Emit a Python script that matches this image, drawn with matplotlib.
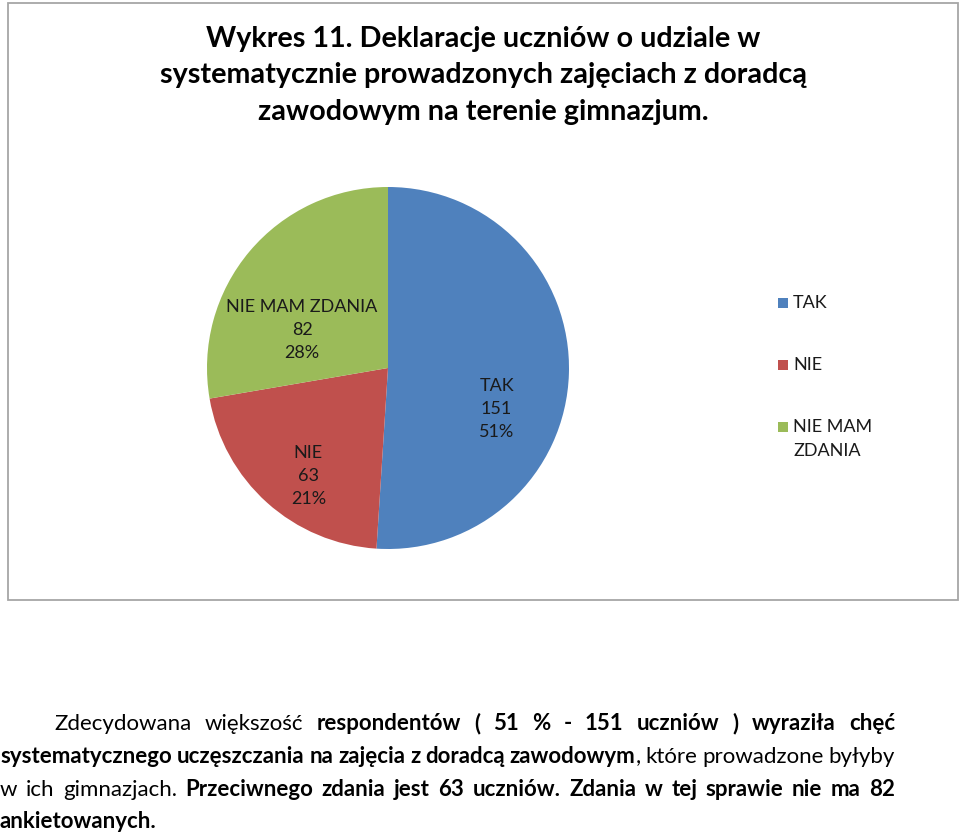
import matplotlib
matplotlib.use("Agg")
import matplotlib.pyplot as plt
from matplotlib.patches import Rectangle

# ---- data ----
categories = ["TAK", "NIE", "NIE MAM ZDANIA"]
values = [151, 63, 82]
legend_labels = ["TAK", "NIE", "NIE MAM\nZDANIA"]
colors = ["#4F81BD", "#C0504D", "#9BBB59"]
title_lines = [
    "Wykres 11. Deklaracje uczniów o udziale w",
    "systematycznie prowadzonych zajęciach z doradcą",
    "zawodowym na terenie gimnazjum.",
]
# paragraph: lines of words; each word = list of (text, bold)
para_lines = [
    [[("Zdecydowana", False)], [("większość", False)], [("respondentów", True)], [("(", True)],
     [("51", True)], [("%", True)], [("-", True)], [("151", True)], [("uczniów", True)],
     [(")", True)], [("wyraziła", True)], [("chęć", True)]],
    [[("systematycznego", True)], [("uczęszczania", True)], [("na", True)], [("zajęcia", True)],
     [("z", True)], [("doradcą", True)], [("zawodowym", True), (",", False)], [("które", False)],
     [("prowadzone", False)], [("byłyby", False)]],
    [[("w", False)], [("ich", False)], [("gimnazjach.", False)], [("Przeciwnego", True)],
     [("zdania", True)], [("jest", True)], [("63", True)], [("uczniów.", True)], [("Zdania", True)],
     [("w", True)], [("tej", True)], [("sprawie", True)], [("nie", True)], [("ma", True)], [("82", True)]],
    [[("ankietowanych.", True)]],
]

W, H = 960, 835
FONT = "Lato"
plt.rcParams["font.family"] = [FONT, "DejaVu Sans"]

fig = plt.figure(figsize=(W / 100, H / 100), dpi=100)


def fx(px):
    return px / W


def fy(py):
    return 1 - py / H


# chart frame
fig.patches.append(Rectangle((fx(8), fy(600)), fx(958) - fx(8), fy(3) - fy(600),
                             transform=fig.transFigure, fill=False,
                             edgecolor="#A6A6A6", linewidth=1.3))

# title
for i, line in enumerate(title_lines):
    fig.text(fx(483), fy(47 + i * 36.5), line, ha="center", va="baseline",
             fontsize=20.7, fontweight="bold", color="black")

# pie
cx, cy, r = 388, 368, 181
ax = fig.add_axes([fx(cx - r), fy(cy + r), 2 * r / W, 2 * r / H])
wedges, _ = ax.pie(values, colors=colors, startangle=90, counterclock=False,
                   wedgeprops=dict(linewidth=0))
ax.set_xlim(-1, 1)
ax.set_ylim(-1, 1)
ax.set_aspect("equal")
ax.axis("off")

total = sum(values)
label_pos = [(0.60, -0.225), (-0.44, -0.595), (-0.475, 0.21)]
for cat, v, (lx, ly) in zip(categories, values, label_pos):
    pct = round(v / total * 100)
    ax.text(lx, ly, f"{cat}\n{v}\n{pct}%", ha="center", va="center",
            fontsize=13, linespacing=1.55, color="#1a1a1a")

# legend (manual, colours from the wedges)
leg_y = [303, 365, 427]
for wdg, lab, y in zip(wedges, legend_labels, leg_y):
    fig.patches.append(Rectangle((fx(778), fy(y + 5)), fx(10), 10 / H,
                                 transform=fig.transFigure,
                                 facecolor=wdg.get_facecolor(), edgecolor="none"))
    first, *rest = lab.split("\n")
    fig.text(fx(793), fy(y), first, ha="left", va="center", fontsize=13, color="#1a1a1a")
    for k, extra in enumerate(rest):
        fig.text(fx(793), fy(y + 24.5 * (k + 1)), extra, ha="left", va="center",
                 fontsize=13, color="#1a1a1a")

# paragraph (justified)
renderer = fig.canvas.get_renderer()
PFS = 16
baselines = [730, 763, 795.5, 828]
starts = [54, 0, 0, 0]
right = 895


def width_of(s, bold):
    t = fig.text(0, 0, s, fontsize=PFS, fontweight="bold" if bold else "normal")
    w = t.get_window_extent(renderer).width
    t.remove()
    return w


space_w = width_of("a a", False) - width_of("aa", False)
for li, (words, yb, x0) in enumerate(zip(para_lines, baselines, starts)):
    seg_w = [[width_of(s, b) for s, b in word] for word in words]
    word_w = [sum(ws) for ws in seg_w]
    justify = li < len(para_lines) - 1
    if justify and len(words) > 1:
        gap = (right - x0 - sum(word_w)) / (len(words) - 1)
    else:
        gap = space_w
    x = x0
    for word, ws in zip(words, seg_w):
        xs = x
        for (s, b), w in zip(word, ws):
            fig.text(fx(xs), fy(yb), s, ha="left", va="baseline", fontsize=PFS,
                     fontweight="bold" if b else "normal", color="black")
            xs += w
        x += sum(ws) + gap

fig.savefig("out.png", dpi=100)
